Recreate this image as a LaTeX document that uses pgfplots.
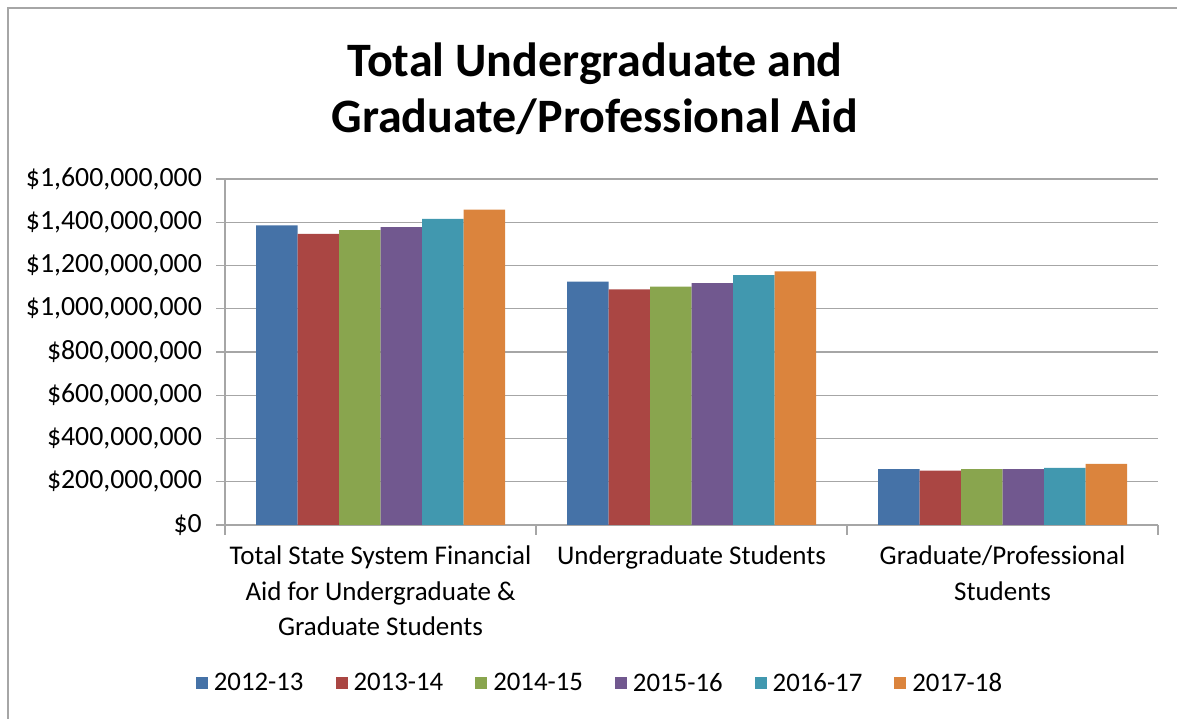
\documentclass[border=0pt]{standalone}
\usepackage{fontspec}
\setmainfont{Carlito}
\usepackage{pgfplots}
\pgfplotsset{compat=1.18}
\definecolor{c1}{HTML}{4572A7}
\definecolor{c2}{HTML}{AA4643}
\definecolor{c3}{HTML}{89A54E}
\definecolor{c4}{HTML}{71588F}
\definecolor{c5}{HTML}{4198AF}
\definecolor{c6}{HTML}{DB843D}
\definecolor{gridc}{HTML}{A6A6A6}
\begin{document}
\begin{tikzpicture}[x=1pt,y=1pt]
\useasboundingbox (0,0) rectangle (1177,719);
\draw[gridc, line width=1.5pt] (8,0) -- (8,711) -- (1177,711);
\node[anchor=base, font=\fontsize{48}{56}\selectfont\bfseries] at (595,642) {Total Undergraduate and};
\node[anchor=base, font=\fontsize{48}{56}\selectfont\bfseries] at (595,586) {Graduate/Professional Aid};
\begin{axis}[
  at={(225pt,194pt)}, anchor=south west,
  width=933pt, height=346pt, scale only axis,
  xmin=-0.5, xmax=2.5, ymin=0, ymax=1600,
  ybar=0pt, bar width=41.5pt,
  axis lines*=left,
  axis line style={gridc, line width=1.2pt},
  ymajorgrids, grid style={gridc, line width=1.2pt},
  ytick={0,200,...,1600},
  yticklabels={{\$0},{\$200,000,000},{\$400,000,000},{\$600,000,000},{\$800,000,000},{\$1,000,000,000},{\$1,200,000,000},{\$1,400,000,000},{\$1,600,000,000}},
  xtick={0,1,2},
  xticklabels={{Total State System Financial\\Aid for Undergraduate \&\\Graduate Students},{Undergraduate Students},{Graduate/Professional\\Students}},
  minor xtick={-0.5,0.5,1.5,2.5},
  tick align=outside,
  major tick length=9pt, minor tick length=10pt,
  tick style={gridc, line width=1.2pt},
  major x tick style={draw=none},
  yticklabel style={font=\fontsize{27.8}{30}\selectfont, inner sep=0pt, xshift=-14pt},
  xticklabel style={font=\fontsize{27}{35.5}\selectfont, align=center, anchor=north, inner sep=0pt, yshift=-12pt},
  legend columns=6,
  legend style={draw=none, at={(0.4019,-0.4566)}, anchor=center,
    font=\fontsize{26.8}{30}\selectfont,
    /tikz/every even column/.append style={column sep=30pt}},
  legend image code/.code={\fill[#1] (0pt,-6pt) rectangle (12pt,6pt); \path (16pt,0pt);},
]
\addplot[fill=c1, draw=none] coordinates {(0,1386) (1,1125) (2,258)};
\addplot[fill=c2, draw=none] coordinates {(0,1346) (1,1090) (2,252)};
\addplot[fill=c3, draw=none] coordinates {(0,1363) (1,1102) (2,258)};
\addplot[fill=c4, draw=none] coordinates {(0,1377) (1,1119) (2,258)};
\addplot[fill=c5, draw=none] coordinates {(0,1416) (1,1156) (2,264)};
\addplot[fill=c6, draw=none] coordinates {(0,1458) (1,1173) (2,283)};
\legend{2012-13,2013-14,2014-15,2015-16,2016-17,2017-18}
\end{axis}
\end{tikzpicture}
\end{document}
